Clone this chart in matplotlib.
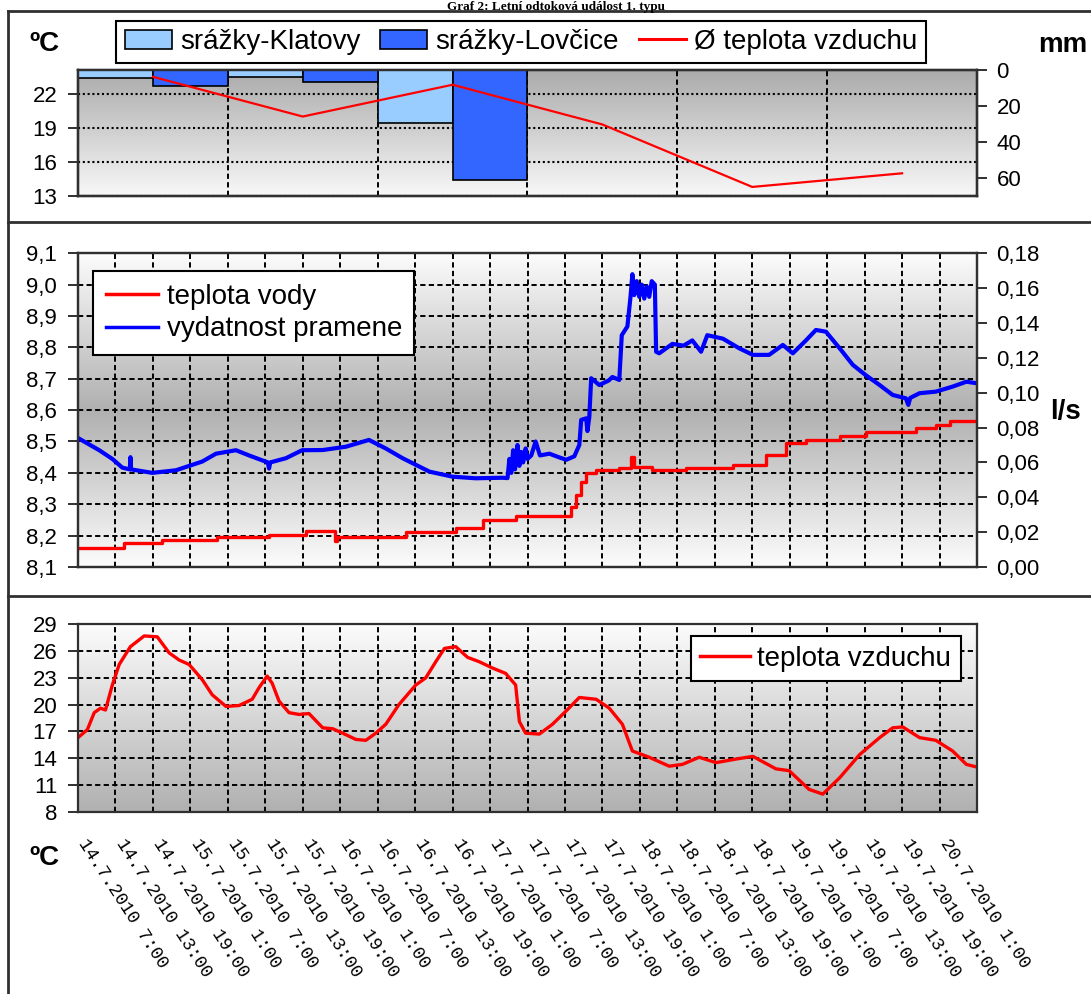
import numpy as np
import matplotlib
matplotlib.use("Agg")
import matplotlib.pyplot as plt
from matplotlib.colors import LinearSegmentedColormap
from matplotlib.lines import Line2D
from matplotlib.patches import Patch
import matplotlib.transforms as mtransforms

plt.rcParams['font.family'] = ['Liberation Sans', 'DejaVu Sans']

# --- top panel: daily values (14.7. - 19.7.)
dny = ['14.7.', '15.7.', '16.7.', '17.7.', '18.7.', '19.7.']
srazky_klatovy = [4.6, 4.1, 29.6, 0, 0, 0]
srazky_lovcice = [8.9, 6.8, 61.1, 0, 0, 0]
prum_teplota = [23.5, 20.0, 22.8, 19.3, 13.8, 15.0]

# --- middle panel: hours since 14.7.2010 7:00
hod_q = [0, 3.4, 5.5, 7.1, 8.3, 8.4, 8.5, 11.9, 15.7, 19.9, 22.1, 25.3, 27.4, 30.4, 30.6, 30.8,
         33.3, 35.9, 39.2, 42.9, 46.6, 49.3, 52.0, 56.3, 60.0, 63.7, 68.0, 68.8,
         69.1, 69.4, 69.7, 70.0, 70.4, 70.7, 71.0, 71.3, 71.7, 72.0, 72.6, 73.3, 74.0,
         75.5, 77.0, 78.2, 79.5, 80.3, 80.6, 81.4, 81.6, 81.9, 82.2, 83.5, 85.0, 85.6,
         86.7, 87.1, 88.0, 88.5, 88.8, 89.1, 89.5, 89.9, 90.3, 90.7, 91.1, 91.5, 91.9,
         92.4, 92.6, 93.1, 95.2, 97.0, 98.4, 99.8, 100.8, 103.3, 105.9, 108.1, 110.7,
         112.9, 114.5, 116.6, 118.2, 119.8, 122.0, 124.1, 126.2, 128.4, 130.5, 132.6,
         133.0, 133.3, 134.8, 137.4, 140.1, 142.3, 144.0]
prutok = [0.074, 0.067, 0.062, 0.057, 0.056, 0.063, 0.056, 0.054, 0.0555, 0.0605, 0.065, 0.067,
          0.064, 0.060, 0.0565, 0.060, 0.0624, 0.067, 0.0671, 0.069, 0.0729, 0.068, 0.0624,
          0.0547, 0.0518, 0.0509, 0.0512, 0.051,
          0.062, 0.054, 0.067, 0.056, 0.070, 0.058, 0.066, 0.060, 0.068, 0.062, 0.064, 0.072,
          0.064, 0.065, 0.063, 0.0615, 0.0635, 0.070, 0.0844, 0.0853, 0.078, 0.086, 0.1083,
          0.1044, 0.107, 0.109, 0.1073, 0.133, 0.138, 0.155, 0.168, 0.156, 0.164, 0.155,
          0.162, 0.154, 0.161, 0.155, 0.164, 0.162, 0.1235, 0.1226, 0.128, 0.127, 0.130,
          0.1235, 0.133, 0.131, 0.1255, 0.1217, 0.1217, 0.1274, 0.1226, 0.130, 0.136, 0.135,
          0.1255, 0.116, 0.110, 0.1044, 0.0987, 0.0968, 0.093, 0.097, 0.0997, 0.1006,
          0.1035, 0.1063, 0.1054]

hod_tv = [0, 7.3, 13.5, 22.3, 30.6, 36.5, 41.2, 41.5, 52.5, 60.5, 64.8, 70.1, 77.9, 78.9,
          79.7, 80.5, 81.3, 82.9, 86.7, 88.6, 89.1, 92.0, 97.4, 104.9, 110.2, 113.4, 116.6,
          122.0, 126.2, 134.2, 137.4, 139.6, 144.0]
teplota_vody = [8.160, 8.175, 8.187, 8.197, 8.203, 8.216, 8.182, 8.196, 8.211, 8.224, 8.251,
                8.261, 8.264, 8.29, 8.33, 8.37, 8.40, 8.41, 8.415, 8.452, 8.42, 8.41, 8.415,
                8.426, 8.458, 8.495, 8.505, 8.516, 8.530, 8.542, 8.553, 8.564, 8.564]

# --- bottom panel: air temperature
hod_tvz = [0, 1.5, 2.6, 3.6, 4.4, 5.5, 6.6, 8.4, 10.6, 12.7, 14.6, 16.2, 17.8, 19.9, 21.5,
           23.7, 25.8, 27.9, 29.0, 30.3, 31.1, 32.2, 33.8, 35.4, 37.0, 39.2, 40.8, 42.4,
           44.5, 46.1, 47.7, 49.3, 51.4, 54.1, 55.7, 57.3, 58.7, 60.5, 62.4, 64.3, 66.4,
           68.5, 70.1, 70.7, 71.7, 73.9, 76.0, 78.2, 80.3, 83.0, 85.1, 87.2, 88.8, 91.5,
           94.7, 96.8, 99.5, 102.2, 105.4, 108.1, 111.8, 113.9, 117.1, 119.3, 122.0, 125.2,
           128.4, 130.5, 132.1, 134.8, 137.4, 140.1, 142.3, 144.0]
teplota_vzduchu = [16.3, 17.2, 19.1, 19.6, 19.4, 22.2, 24.5, 26.5, 27.7, 27.6, 25.8, 25.0,
                   24.5, 22.8, 21.1, 19.8, 19.9, 20.6, 21.9, 23.2, 22.4, 20.4, 19.1, 18.9,
                   19.0, 17.4, 17.3, 16.8, 16.1, 16.0, 16.8, 17.8, 20.0, 22.2, 23.0, 24.8,
                   26.3, 26.5, 25.3, 24.8, 24.1, 23.5, 22.2, 18.1, 16.8, 16.7, 17.8, 19.3,
                   20.8, 20.6, 19.6, 17.8, 14.8, 14.1, 13.1, 13.3, 14.1, 13.5, 13.9, 14.2,
                   12.8, 12.6, 10.5, 9.97, 11.8, 14.4, 16.3, 17.4, 17.5, 16.3, 16.0, 14.8,
                   13.3, 13.0]

x_labels = ['14.7.2010 7:00', '14.7.2010 13:00', '14.7.2010 19:00',
            '15.7.2010 1:00', '15.7.2010 7:00', '15.7.2010 13:00', '15.7.2010 19:00',
            '16.7.2010 1:00', '16.7.2010 7:00', '16.7.2010 13:00', '16.7.2010 19:00',
            '17.7.2010 1:00', '17.7.2010 7:00', '17.7.2010 13:00', '17.7.2010 19:00',
            '18.7.2010 1:00', '18.7.2010 7:00', '18.7.2010 13:00', '18.7.2010 19:00',
            '19.7.2010 1:00', '19.7.2010 7:00', '19.7.2010 13:00', '19.7.2010 19:00',
            '20.7.2010 1:00']

FS = 16
LFS = 20
dash = (0, (2.7, 1.7))
spine_c = '#303030'


def gradient(ax, colors):
    cmap = LinearSegmentedColormap.from_list('g', colors)
    ax.imshow(np.linspace(0, 1, 256).reshape(-1, 1), cmap=cmap, aspect='auto',
              extent=(0, 1, 0, 1), transform=ax.transAxes, origin='lower', zorder=-10)


def style(ax):
    for s in ax.spines.values():
        s.set_color(spine_c)
        s.set_linewidth(1.6)


fig = plt.figure(figsize=(10.91, 9.94), dpi=100)
L, W = 78 / 1091, 899 / 1091

# ---------- top panel
ax1 = fig.add_axes([L, 0.8028, W, 0.1268])
gradient(ax1, ['#f8f8f8', '#aaaaaa'])
ax1.set_xlim(-0.5, 5.5)
ax1.set_ylim(13, 24.1)
ax1.set_yticks([13, 16, 19, 22])
ax1.set_xticks([0.5, 1.5, 2.5, 3.5, 4.5])
ax1.xaxis.grid(True, color='black', ls=dash, lw=1.4)
ax1.yaxis.grid(True, color='black', ls=(0, (1, 1.3)), lw=1.5)
ax1.tick_params(axis='x', length=0, labelbottom=False)
ax1.tick_params(axis='y', labelsize=FS, length=7, width=1.4, pad=8, color=spine_c)
style(ax1)

ax1b = ax1.twinx()
x = np.arange(len(dny))
ax1b.bar(x - 0.25, srazky_klatovy, width=0.5, color='#99ccff', edgecolor='black', lw=1.2)
ax1b.bar(x + 0.25, srazky_lovcice, width=0.5, color='#3366ff', edgecolor='black', lw=1.2)
ax1b.set_ylim(70, 0)
ax1b.set_yticks([0, 20, 40, 60])
ax1b.tick_params(axis='y', labelsize=FS, length=7, width=1.4, pad=7, color=spine_c)
style(ax1b)

ax1l = ax1.twinx()
ax1l.plot(x, prum_teplota, color='#ff0000', lw=1.6)
ax1l.set_ylim(13, 24.1)
ax1l.yaxis.set_visible(False)
style(ax1l)

h1 = [Patch(facecolor='#99ccff', edgecolor='black', lw=1.2),
      Patch(facecolor='#3366ff', edgecolor='black', lw=1.2),
      Line2D([], [], color='#ff0000', lw=2.2)]
leg = ax1l.legend(h1, ['srážky-Klatovy', 'srážky-Lovčice', 'Ø teplota vzduchu'], ncol=3,
                  loc='center', bbox_to_anchor=(521 / 1091, 1 - 42 / 994),
                  bbox_transform=fig.transFigure, fontsize=LFS, frameon=True, fancybox=False,
                  framealpha=1, edgecolor='black', handlelength=1.7, handletextpad=0.3,
                  columnspacing=0.7, borderpad=0.3)
leg.get_frame().set_linewidth(1.5)

# ---------- middle panel
ax2 = fig.add_axes([L, 0.4296, W, 0.3156])
gradient(ax2, ['#fcfcfc', '#b0b0b0', '#fcfcfc'])
ax2.set_xlim(0, 144)
ax2.set_ylim(8.1, 9.1)
ax2.set_xticks(np.arange(0, 144, 6))
ax2.set_yticks(np.arange(8.1, 9.15, 0.1))
ax2.set_yticklabels([f'{v:.1f}'.replace('.', ',') for v in np.arange(8.1, 9.15, 0.1)])
ax2.grid(True, color='black', ls=dash, lw=1.4)
ax2.tick_params(axis='x', length=0, labelbottom=False)
ax2.tick_params(axis='y', labelsize=FS, length=7, width=1.4, pad=8, color=spine_c)
ax2.plot(hod_tv, teplota_vody, color='#ff0000', lw=2.4, drawstyle='steps-post')
style(ax2)

ax2r = ax2.twinx()
ax2r.plot(hod_q, prutok, color='#0000ff', lw=3.0)
ax2r.set_ylim(0, 0.18)
ax2r.set_yticks(np.arange(0, 0.181, 0.02))
ax2r.set_yticklabels([f'{v:.2f}'.replace('.', ',') for v in np.arange(0, 0.181, 0.02)])
ax2r.tick_params(axis='y', labelsize=FS, length=7, width=1.4, pad=7, color=spine_c)
style(ax2r)

h2 = [Line2D([], [], color='#ff0000', lw=2.5), Line2D([], [], color='#0000ff', lw=2.5)]
leg2 = ax2r.legend(h2, ['teplota vody', 'vydatnost pramene'], loc='upper left',
                   bbox_to_anchor=(93 / 1091, 1 - 271 / 994), bbox_transform=fig.transFigure,
                   borderaxespad=0, fontsize=LFS, fancybox=False, framealpha=1,
                   edgecolor='black', handlelength=1.9, handletextpad=0.3,
                   labelspacing=0.25, borderpad=0.45)
leg2.get_frame().set_linewidth(1.5)

# ---------- bottom panel
ax3 = fig.add_axes([L, 0.1834, W, 0.1885])
gradient(ax3, ['#b0b0b0', '#fcfcfc'])
ax3.plot(hod_tvz, teplota_vzduchu, color='#ff0000', lw=2.4)
ax3.set_xlim(0, 144)
ax3.set_ylim(8, 29)
ax3.set_yticks(np.arange(8, 30, 3))
ax3.set_xticks(np.arange(0, 144, 6))
ax3.set_xticklabels(x_labels, rotation=-57, rotation_mode='anchor', ha='left', va='center',
                    fontsize=13, family='Liberation Mono')
ax3.grid(True, color='black', ls=dash, lw=1.4)
ax3.tick_params(axis='x', length=0, pad=21)
ax3.tick_params(axis='y', labelsize=FS, length=7, width=1.4, pad=8, color=spine_c)
off = mtransforms.ScaledTranslation(4 / 100, 0, fig.dpi_scale_trans)
for t in ax3.get_xticklabels():
    t.set_transform(t.get_transform() + off)
style(ax3)
leg3 = ax3.legend([Line2D([], [], color='#ff0000', lw=2.5)], ['teplota vzduchu'],
                  loc='upper right', bbox_to_anchor=(961 / 1091, 1 - 636 / 994),
                  bbox_transform=fig.transFigure, borderaxespad=0, fontsize=LFS,
                  fancybox=False, framealpha=1, edgecolor='black', handlelength=1.8,
                  handletextpad=0.25, borderpad=0.35)
leg3.get_frame().set_linewidth(1.5)

# ---------- frame, title and unit labels
for yy in [11, 222, 596]:
    fig.add_artist(Line2D([8 / 1091, 1], [1 - yy / 994] * 2, color='#303030', lw=2,
                          transform=fig.transFigure))
fig.add_artist(Line2D([8 / 1091] * 2, [0, 1 - 11 / 994], color='#303030', lw=2,
                      transform=fig.transFigure))
fig.text(556 / 1091, 1 - 1 / 994, 'Graf 2: Letní odtoková událost 1. typu', ha='center',
         va='top', fontsize=9.5, fontweight='bold', family='Liberation Serif')
fig.text(44 / 1091, 1 - 44 / 994, 'ºC', ha='center', va='center', fontsize=20, fontweight='bold')
fig.text(1063 / 1091, 1 - 45 / 994, 'mm', ha='center', va='center', fontsize=20, fontweight='bold')
fig.text(1065 / 1091, 1 - 412 / 994, 'l/s', ha='center', va='center', fontsize=20, fontweight='bold')
fig.text(44 / 1091, 1 - 858 / 994, 'ºC', ha='center', va='center', fontsize=20, fontweight='bold')

fig.savefig('out.png', dpi=100)
